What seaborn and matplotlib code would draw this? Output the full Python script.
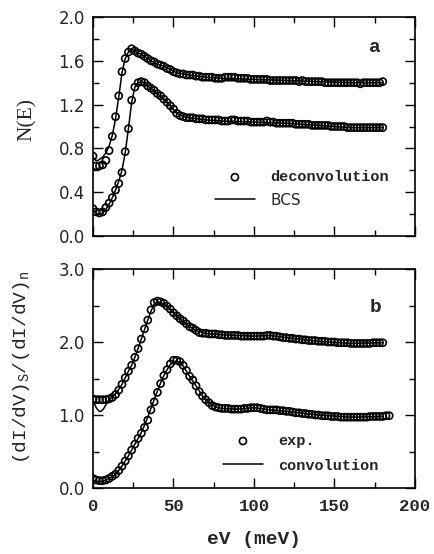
import numpy as np
import pandas as pd
import matplotlib
matplotlib.use("Agg")
import matplotlib.pyplot as plt
from matplotlib.ticker import MultipleLocator, FormatStrFormatter
import seaborn as sns

# ---------------- data ----------------
# panel a : N(E)
E_a = list(range(0, 181, 2))
deconv_low = [0.25, 0.22, 0.21, 0.22, 0.26, 0.30, 0.35, 0.42, 0.48, 0.58,
              0.77, 0.98, 1.24, 1.36, 1.40, 1.41, 1.40, 1.37, 1.35, 1.33,
              1.30, 1.28, 1.25, 1.22, 1.19, 1.16, 1.12, 1.10, 1.09, 1.08,
              1.08, 1.08, 1.07, 1.07, 1.07, 1.06, 1.06, 1.06, 1.06, 1.06,
              1.05, 1.05, 1.05, 1.06, 1.06, 1.05, 1.05, 1.05, 1.05, 1.04,
              1.04, 1.04, 1.04, 1.04, 1.05, 1.04, 1.04, 1.03, 1.03, 1.03,
              1.03, 1.03, 1.03, 1.02, 1.02, 1.02, 1.02, 1.02, 1.01, 1.01,
              1.01, 1.01, 1.01, 1.01, 1.00, 1.00, 1.00, 1.00, 1.00, 0.99,
              0.99, 0.99, 0.99, 0.99, 0.99, 0.99, 0.99, 0.99, 0.99, 0.99,
              0.99]
deconv_up = [0.73, 0.64, 0.64, 0.65, 0.69, 0.78, 0.91, 1.09, 1.28, 1.50,
             1.62, 1.68, 1.71, 1.69, 1.67, 1.66, 1.64, 1.62, 1.60, 1.59,
             1.57, 1.56, 1.55, 1.53, 1.52, 1.50, 1.49, 1.48, 1.48, 1.47,
             1.47, 1.47, 1.46, 1.46, 1.45, 1.45, 1.45, 1.45, 1.44, 1.44,
             1.44, 1.45, 1.45, 1.45, 1.45, 1.44, 1.44, 1.44, 1.44, 1.43,
             1.43, 1.43, 1.43, 1.43, 1.43, 1.42, 1.42, 1.42, 1.42, 1.42,
             1.42, 1.42, 1.42, 1.42, 1.41, 1.42, 1.41, 1.41, 1.41, 1.41,
             1.41, 1.41, 1.40, 1.40, 1.40, 1.40, 1.40, 1.40, 1.40, 1.40,
             1.40, 1.40, 1.40, 1.39, 1.40, 1.40, 1.40, 1.40, 1.40, 1.40,
             1.41]
E_bcs = [0, 1, 2, 3, 4, 6, 8, 10, 12, 14, 16, 18, 20, 22, 24, 26, 28, 30,
         32, 34, 36, 40, 44, 48, 52, 56, 60, 70, 80, 100, 120, 140, 160, 180]
bcs_low = [0.24, 0.22, 0.21, 0.20, 0.20, 0.21, 0.24, 0.29, 0.35, 0.42, 0.50,
           0.60, 0.76, 0.98, 1.22, 1.36, 1.40, 1.41, 1.40, 1.37, 1.35, 1.30,
           1.25, 1.19, 1.12, 1.09, 1.08, 1.06, 1.05, 1.04, 1.03, 1.01, 0.99,
           0.99]
bcs_up = [0.72, 0.70, 0.69, 0.69, 0.70, 0.72, 0.76, 0.82, 0.92, 1.07, 1.27,
          1.49, 1.62, 1.68, 1.71, 1.69, 1.67, 1.66, 1.64, 1.62, 1.60, 1.57,
          1.55, 1.52, 1.49, 1.48, 1.47, 1.45, 1.44, 1.43, 1.42, 1.41, 1.40,
          1.40]

# panel b : (dI/dV)s/(dI/dV)n
E_b_low = list(range(0, 185, 2))
exp_low = [0.13, 0.11, 0.10, 0.10, 0.11, 0.13, 0.16, 0.19, 0.24, 0.30,
           0.37, 0.44, 0.52, 0.60, 0.68, 0.75, 0.83, 0.93, 1.07, 1.18,
           1.31, 1.43, 1.54, 1.62, 1.70, 1.75, 1.75, 1.73, 1.68, 1.61,
           1.53, 1.48, 1.40, 1.32, 1.26, 1.21, 1.17, 1.13, 1.11, 1.10,
           1.09, 1.09, 1.09, 1.08, 1.08, 1.08, 1.08, 1.09, 1.09, 1.10,
           1.10, 1.10, 1.09, 1.08, 1.07, 1.07, 1.07, 1.07, 1.06, 1.06,
           1.05, 1.05, 1.04, 1.03, 1.03, 1.02, 1.02, 1.01, 1.01, 1.00,
           1.00, 0.99, 0.99, 0.99, 0.98, 0.98, 0.98, 0.97, 0.97, 0.97,
           0.97, 0.97, 0.97, 0.97, 0.97, 0.97, 0.98, 0.98, 0.98, 0.98,
           0.98, 0.99, 0.99]
E_b_up = list(range(0, 181, 2))
exp_up = [1.22, 1.21, 1.21, 1.21, 1.21, 1.22, 1.24, 1.28, 1.34, 1.42,
          1.51, 1.60, 1.68, 1.79, 1.91, 2.04, 2.18, 2.30, 2.44, 2.54,
          2.56, 2.55, 2.53, 2.49, 2.45, 2.40, 2.36, 2.32, 2.29, 2.25,
          2.21, 2.19, 2.16, 2.13, 2.12, 2.12, 2.11, 2.11, 2.11, 2.10,
          2.10, 2.09, 2.09, 2.09, 2.09, 2.09, 2.08, 2.08, 2.08, 2.08,
          2.08, 2.08, 2.08, 2.08, 2.09, 2.09, 2.08, 2.08, 2.07, 2.06,
          2.06, 2.05, 2.05, 2.04, 2.04, 2.03, 2.03, 2.02, 2.02, 2.02,
          2.01, 2.01, 2.01, 2.00, 2.00, 2.00, 1.99, 1.99, 1.99, 1.99,
          1.98, 1.98, 1.98, 1.98, 1.98, 1.98, 1.98, 1.99, 1.99, 1.99,
          1.99]
E_conv = [0, 1, 2, 3, 4, 5, 6, 7, 8, 9, 10, 12, 14, 16, 18, 20, 22, 24, 26,
          28, 30, 32, 34, 36, 38, 40, 42, 44, 46, 48, 50, 52, 54, 56, 58, 60,
          64, 68, 72, 76, 80, 90, 100, 110, 120, 140, 160, 180]
conv_up = [1.20, 1.15, 1.10, 1.07, 1.05, 1.05, 1.07, 1.10, 1.14, 1.18, 1.21,
           1.25, 1.29, 1.35, 1.42, 1.51, 1.60, 1.68, 1.79, 1.91, 2.04, 2.17,
           2.30, 2.42, 2.52, 2.55, 2.54, 2.52, 2.49, 2.45, 2.40, 2.36, 2.32,
           2.28, 2.25, 2.21, 2.16, 2.13, 2.11, 2.11, 2.10, 2.09, 2.08, 2.09,
           2.06, 2.01, 1.98, 1.99]
conv_low = [0.11, 0.10, 0.10, 0.09, 0.09, 0.09, 0.10, 0.10, 0.11, 0.12, 0.13,
            0.15, 0.19, 0.24, 0.30, 0.37, 0.44, 0.52, 0.60, 0.68, 0.76, 0.86,
            0.97, 1.09, 1.21, 1.33, 1.44, 1.54, 1.62, 1.69, 1.73, 1.74, 1.72,
            1.67, 1.60, 1.53, 1.40, 1.26, 1.17, 1.11, 1.09, 1.08, 1.10, 1.07,
            1.05, 1.00, 0.97, 0.98]

x_ticks = [0, 50, 100, 150, 200]
ya_ticks = [0.0, 0.4, 0.8, 1.2, 1.6, 2.0]
yb_ticks = [0.0, 1.0, 2.0, 3.0]

# ---------------- style ----------------
sns.set_theme(style="ticks")
plt.rcParams["font.family"] = ["DejaVu Sans"]
plt.rcParams["mathtext.fontset"] = "custom"
plt.rcParams["mathtext.rm"] = "Liberation Mono"
plt.rcParams["mathtext.it"] = "Liberation Mono"

W, H = 435, 554
fig = plt.figure(figsize=(W / 100, H / 100), dpi=100)
ax1 = fig.add_axes([93 / W, 1 - 236 / H, 322 / W, 219 / H])
ax2 = fig.add_axes([93 / W, 1 - 488 / H, 322 / W, 219 / H])

mono = "Liberation Mono"
mk = dict(marker="o", s=26, facecolor="none", edgecolor="black",
          linewidth=1.2, zorder=3)
ln = dict(color="black", lw=1.1, zorder=2, sort=False, estimator=None)

# panel a
sns.lineplot(x=E_bcs, y=bcs_low, ax=ax1, label="BCS", **ln)
sns.lineplot(x=E_bcs, y=bcs_up, ax=ax1, **ln)
sns.scatterplot(x=E_a, y=deconv_low, ax=ax1, label="deconvolution", **mk)
sns.scatterplot(x=E_a, y=deconv_up, ax=ax1, **mk)

# panel b
sns.lineplot(x=E_conv, y=conv_low, ax=ax2, label="convolution", **ln)
sns.lineplot(x=E_conv, y=conv_up, ax=ax2, **ln)
sns.scatterplot(x=E_b_low, y=exp_low, ax=ax2, label="exp.", **mk)
sns.scatterplot(x=E_b_up, y=exp_up, ax=ax2, **mk)

for ax, yt, minor in ((ax1, ya_ticks, 0.2), (ax2, yb_ticks, 0.5)):
    ax.set_xlim(0, 200)
    ax.set_ylim(yt[0], yt[-1])
    ax.set_xticks(x_ticks)
    ax.set_yticks(yt)
    ax.xaxis.set_minor_locator(MultipleLocator(25))
    ax.yaxis.set_minor_locator(MultipleLocator(minor))
    ax.yaxis.set_major_formatter(FormatStrFormatter("%.1f"))
    ax.tick_params(which="both", direction="in", top=True, right=True,
                   width=1.0, color="black")
    ax.tick_params(which="major", length=7)
    ax.tick_params(which="minor", length=4)
    ax.tick_params(axis="y", which="major", pad=6, labelsize=12)
    ax.tick_params(axis="x", which="major", pad=8)
    for s in ax.spines.values():
        s.set_linewidth(1.2)
        s.set_color("black")
    for t in ax.get_yticklabels():
        t.set_family("DejaVu Sans")
    ax.set_xlabel("")
    ax.set_ylabel("")

ax1.tick_params(axis="x", labelbottom=False)
for t in ax2.get_xticklabels():
    t.set_family(mono)
    t.set_fontsize(12.5)
    t.set_fontweight("bold")

ax1.set_ylabel("N(E)", family="Liberation Serif", fontsize=15.5)
ax1.yaxis.set_label_coords(-0.175, 0.53)
ax2.set_ylabel(r"$\mathrm{(dI/dV)_S/(dI/dV)_n}$", fontsize=14)
ax2.yaxis.set_label_coords(-0.19, 0.55)
ax2.set_xlabel("eV (meV)", family=mono, fontsize=14, fontweight="bold",
               labelpad=12)

ax1.text(0.876, 0.863, "a", transform=ax1.transAxes, family=mono,
         fontsize=14, fontweight="bold", ha="center", va="center")
ax2.text(0.876, 0.826, "b", transform=ax2.transAxes, family=mono,
         fontsize=14, fontweight="bold", ha="center", va="center")

def make_legend(ax, order, anchor, spacing):
    h, l = ax.get_legend_handles_labels()
    d = dict(zip(l, h))
    leg = ax.legend([d[k] for k in order], order, loc="center left",
                    bbox_to_anchor=anchor, frameon=False, borderpad=0,
                    borderaxespad=0, handlelength=2.6, handletextpad=1.0,
                    labelspacing=spacing,
                    prop=dict(family=mono, weight="bold", size=11))
    return leg

leg1 = make_legend(ax1, ["deconvolution", "BCS"], (0.379, 0.215), 0.55)
leg1.get_texts()[1].set_family("DejaVu Sans")
leg1.get_texts()[1].set_fontweight("normal")
leg2 = make_legend(ax2, ["exp.", "convolution"], (0.404, 0.158), 0.7)

fig.savefig("out.png", dpi=100)
